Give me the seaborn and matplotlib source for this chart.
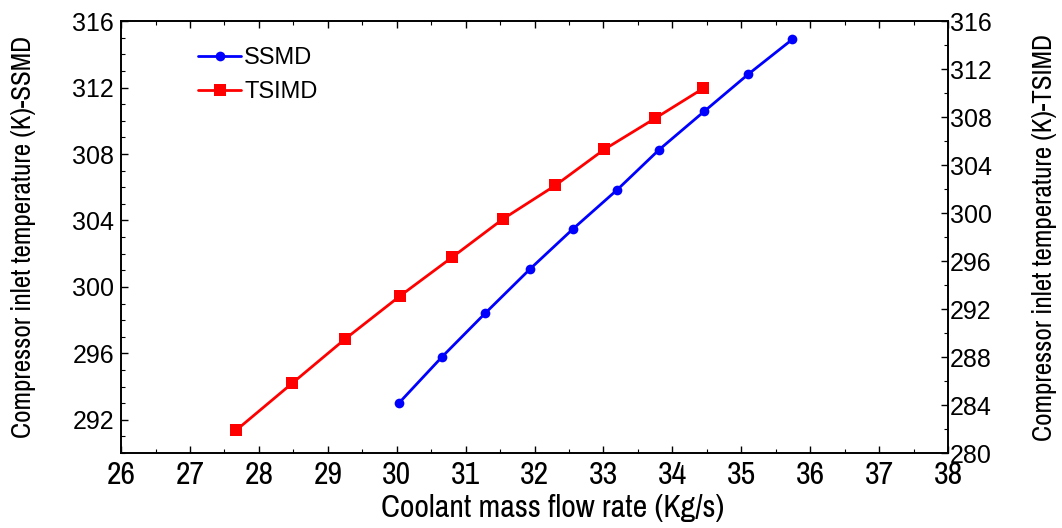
import matplotlib
matplotlib.use("Agg")
import matplotlib.pyplot as plt
import seaborn as sns
import pandas as pd
from matplotlib.ticker import MultipleLocator
from matplotlib import font_manager

sns.set_theme(style="white")
plt.rcParams['font.family'] = ['Liberation Sans', 'DejaVu Sans']
plt.rcParams['text.color'] = 'black'
plt.rcParams['axes.labelcolor'] = 'black'
plt.rcParams['xtick.color'] = 'black'
plt.rcParams['ytick.color'] = 'black'

ssmd_x = [30.03, 30.66, 31.28, 31.94, 32.56, 33.20, 33.81, 34.46, 35.10, 35.74]
ssmd_y = [293.0, 295.8, 298.4, 301.1, 303.5, 305.85, 308.27, 310.56, 312.8, 314.9]
tsimd_x = [27.67, 28.48, 29.25, 30.05, 30.80, 31.54, 32.30, 33.01, 33.75, 34.45]
tsimd_y = [281.9, 285.8, 289.5, 293.1, 296.3, 299.5, 302.3, 305.3, 307.9, 310.4]
x_ticks = list(range(26, 39))
left_ticks = [292, 296, 300, 304, 308, 312, 316]
right_ticks = [280, 284, 288, 292, 296, 300, 304, 308, 312, 316]

df1 = pd.DataFrame({"x": ssmd_x, "y": ssmd_y})
df2 = pd.DataFrame({"x": tsimd_x, "y": tsimd_y})

available = {f.name for f in font_manager.fontManager.ttflist}
narrow_font = None
for cand in ['Liberation Sans Narrow', 'Arial Narrow', 'Archivo Narrow', 'Roboto Condensed']:
    if cand in available:
        narrow_font = cand
        break
if narrow_font in ('Liberation Sans Narrow', 'Arial Narrow'):
    narrow = [narrow_font, 'Liberation Sans', 'DejaVu Sans']
    nsize, ysize = 17.5, 16.5
elif narrow_font:
    narrow = [narrow_font, 'Liberation Sans', 'DejaVu Sans']
    nsize, ysize = 23, 19.5
else:
    narrow = ['Liberation Sans', 'DejaVu Sans']
    nsize, ysize = 15, 14

fig = plt.figure(figsize=(10.62, 5.28), dpi=100)
ax = fig.add_axes([0.114, 0.142, 0.7787, 0.818])
ax2 = ax.twinx()

sns.lineplot(data=df1, x="x", y="y", ax=ax, color="#0000ff", marker="o",
             markersize=7, markeredgewidth=0, linewidth=2, label="SSMD", legend=False)
sns.lineplot(data=df2, x="x", y="y", ax=ax2, color="#ff0000", marker="s",
             markersize=8, markeredgewidth=0, linewidth=2, label="TSIMD", legend=False)

ax.set_xlim(26, 38)
ax.set_ylim(290, 316)
ax2.set_ylim(280, 316)
ax.set_xticks(x_ticks)
ax.set_yticks(left_ticks)
ax2.set_yticks(right_ticks)
ax.xaxis.set_minor_locator(MultipleLocator(0.5))
ax.yaxis.set_minor_locator(MultipleLocator(1))
ax2.yaxis.set_minor_locator(MultipleLocator(2))

for a in (ax, ax2):
    for s in a.spines.values():
        s.set_color("black")
        s.set_linewidth(1.2)

ax.tick_params(axis="x", which="both", direction="in", top=True, bottom=True,
               pad=6, color="black")
ax.tick_params(axis="x", which="major", length=5, width=1)
ax.tick_params(axis="x", which="minor", length=3, width=0.8)
ax.tick_params(axis="y", which="both", direction="in", left=True, right=False,
               labelsize=18, pad=5, color="black")
ax.tick_params(axis="y", which="major", length=5, width=1)
ax.tick_params(axis="y", which="minor", length=3, width=0.8)
ax2.tick_params(axis="y", which="both", direction="in", right=True, left=False,
                labelsize=18, pad=1.5, color="black")
ax2.tick_params(axis="y", which="major", length=5, width=1)
ax2.tick_params(axis="y", which="minor", length=3, width=0.8)
for t in ax.get_xticklabels():
    t.set_family(narrow)
    t.set_fontsize(nsize)

ax.set_xlabel("Coolant mass flow rate (Kg/s)", fontsize=nsize, labelpad=3, family=narrow)
ax.xaxis.label.set_x(0.522)
ax.set_ylabel("Compressor inlet temperature (K)-SSMD", fontsize=ysize, labelpad=26, family=narrow)
ax2.set_ylabel("Compressor inlet temperature (K)-TSIMD", fontsize=ysize, labelpad=29, family=narrow)

h1, l1 = ax.get_legend_handles_labels()
h2, l2 = ax2.get_legend_handles_labels()
ax2.legend(h1 + h2, l1 + l2, loc="upper left", bbox_to_anchor=(0.082, 0.962),
           frameon=False, fontsize=17, handlelength=1.8, handletextpad=0.15,
           labelspacing=0.5, borderaxespad=0)

fig.savefig("out.png", dpi=100)
